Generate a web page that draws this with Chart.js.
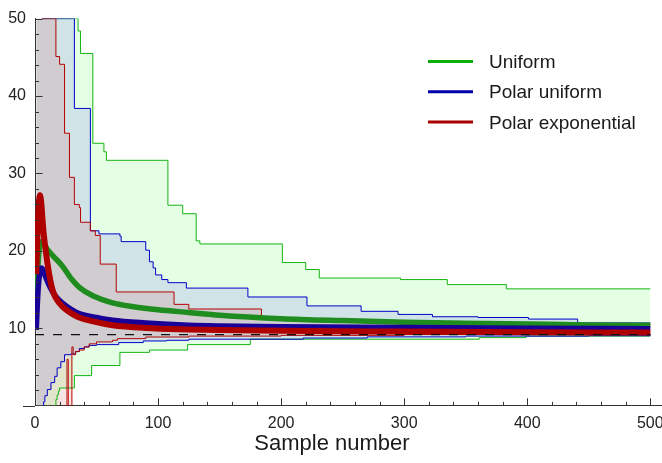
<!DOCTYPE html>
<html>
<head>
<meta charset="utf-8">
<script src="https://cdn.jsdelivr.net/npm/chart.js@4.4.1/dist/chart.umd.min.js"></script>
<style>
  body { margin: 0; background: #fff; }
  canvas { display: block; }
</style>
</head>
<body>
<canvas id="myChart" width="662" height="463"></canvas>
<script>
// tick labels
const xTicks = [0, 100, 200, 300, 400, 500];
const yTicks = [10, 20, 30, 40, 50];

const legendNames = ["Uniform", "Polar uniform", "Polar exponential"];
const trueValue = 9.2;

// running means, [sample, value]
const uniformMean = [[1,12.3],[2,16.8],[3,19.5],[4,20.8],[5,21.2],[7,21],[10,20.2],[15,19.3],[22,18.1],[30,16.3],[36,15.3],[47,14.2],[63,13.3],[80,12.8],[100,12.4],[125,12.05],[150,11.7],[200,11.25],[250,11.0],[300,10.8],[350,10.65],[400,10.55],[450,10.45],[500,10.4]];
const polarUniformMean = [[1,9.8],[2,13.5],[3,16],[4,17.3],[5,17.8],[6,17.7],[8,16.9],[12,15.4],[16,14.3],[22,13.3],[30,12.4],[36,11.9],[50,11.4],[63,11.05],[90,10.7],[125,10.4],[150,10.3],[200,10.2],[300,10.1],[400,10.0],[500,9.95]];
const polarExpMean = [[1,17],[2,22],[3,25.8],[4,27.2],[5,26.3],[6,24.3],[7,22.3],[9,19.7],[11,17.5],[14,15.1],[17,13.9],[23,12.7],[30,11.9],[36,11.4],[50,10.8],[63,10.4],[90,10.05],[125,9.86],[150,9.78],[200,9.68],[300,9.58],[400,9.5],[500,9.45]];

// band edges (step functions, value holds until next point)
const uniformUpper = [[1,60],[6,50],[33,50],[35,48.4],[37,45.5],[47,33.9],[56,32.8],[58,31.7],[108,25.9],[120,24.8],[131,21.3],[134,20.9],[201,18.5],[220,17.6],[231,16.5],[297,16.3],[335,15.65],[383,15.1],[500,15.1]];
const uniformLower = [[1,-5],[16,0],[17,0.8],[18,1.4],[19,1.9],[20,2.3],[32,3.9],[46,5.2],[69,6.9],[93,7.2],[124,7.9],[175,8.6],[361,8.8],[399,9.0],[500,9.0]];
const polarUniformUpper = [[1,60],[6,50],[31,50],[32,38.4],[45,22.6],[52,22.2],[69,21.9],[70,21.2],[90,20.1],[93,18.6],[96,17.8],[98,16.9],[103,16.3],[108,15.9],[123,15.2],[173,14.05],[221,12.9],[265,12.2],[295,11.8],[323,11.5],[360,11.4],[401,11.2],[441,10.7],[500,10.7]];
const polarUniformLower = [[1,-5],[6,-1],[7,0.5],[8,1.3],[10,2.1],[13,3.0],[16,3.8],[18,4.9],[21,5.7],[24,6.6],[29,6.7],[33,7.0],[36,7.4],[40,7.6],[44,7.8],[50,7.9],[68,8.16],[88,8.37],[107,8.46],[125,8.6],[218,8.75],[270,8.9],[350,9.0],[450,9.05],[500,9.1]];
const polarExpUpper = [[1,60],[6,50],[16,50],[17,45.1],[20,44.1],[24,35.2],[28,29.5],[32,26],[36,25.6],[37,23.7],[45,22.6],[49,22],[53,18.3],[66,14.7],[113,13.1],[125,12.5],[184,11.4],[215,11.1],[270,10.8],[296,10.57],[315,10.5],[500,10.45]];
const polarExpLower = [[1,-20],[26,6],[27,-5],[30,7.6],[31,6.6],[33,7.0],[36,7.2],[40,7.6],[44,8.0],[50,8.25],[63,8.46],[67,8.67],[90,8.88],[125,9.0],[200,9.1],[300,9.2],[500,9.3]];

const pts = (arr) => arr.map(([x, y]) => ({ x, y }));

function meanLine(data, color, w) {
  return { data: pts(data), borderColor: color, borderWidth: w, pointRadius: 0,
           cubicInterpolationMode: "monotone", fill: false };
}
// 'before' in Chart.js = hold the old value, then jump at the new point
function edge(data, color, fillColor) {
  return { data: pts(data), borderColor: color, borderWidth: 1, pointRadius: 0,
           stepped: "before", fill: fillColor ? "+1" : false,
           backgroundColor: fillColor || "transparent" };
}

const legendColors = ["rgb(10,175,10)", "rgb(0,0,170)", "rgb(170,0,0)"];

const decor = {
  id: "decor",
  afterDraw(chart) {
    const { ctx, chartArea: a, scales: { x, y } } = chart;
    ctx.save();
    ctx.strokeStyle = "#333";
    ctx.lineWidth = 1;
    ctx.beginPath();
    // x axis runs a bit past the y axis
    ctx.moveTo(23, Math.round(a.bottom) + 0.5);
    ctx.lineTo(a.left, Math.round(a.bottom) + 0.5);
    // inner ticks
    for (let v = 20; v <= 500; v += 20) {
      const px = Math.round(x.getPixelForValue(v)) + 0.5;
      ctx.moveTo(px, a.bottom);
      ctx.lineTo(px, a.bottom - (v % 100 ? 4 : 7.5));
    }
    for (let v = 2; v <= 50; v += 2) {
      const py = Math.round(y.getPixelForValue(v)) + 0.5;
      ctx.moveTo(a.left, py);
      ctx.lineTo(a.left + (v % 10 ? 4 : 7.5), py);
    }
    ctx.stroke();

    // axis title
    ctx.fillStyle = "#1a1a1a";
    ctx.font = '22px "Liberation Sans", Arial, sans-serif';
    ctx.textAlign = "center";
    ctx.textBaseline = "middle";
    ctx.fillText("Sample number", 332, 444);

    // legend
    ctx.font = '19px "Liberation Sans", Arial, sans-serif';
    ctx.textAlign = "left";
    legendNames.forEach((name, i) => {
      const ly = 61.5 + i * 30.3;
      ctx.strokeStyle = legendColors[i];
      ctx.lineWidth = 3;
      ctx.beginPath();
      ctx.moveTo(428, ly);
      ctx.lineTo(473, ly);
      ctx.stroke();
      ctx.fillText(name, 489, ly + 1.2);
    });
    ctx.restore();
  }
};

Chart.defaults.font.family = '"Liberation Sans", Arial, sans-serif';
Chart.defaults.color = "#222";

const ctx = document.getElementById("myChart");

new Chart(ctx, {
  type: "line",
  data: {
    datasets: [
      { data: [{ x: 0, y: trueValue }, { x: 500, y: trueValue }], borderColor: "#111",
        borderWidth: 1.3, borderDash: [9, 9], pointRadius: 0, fill: false },
      meanLine(polarExpMean, "rgb(175,0,0)", 6),
      meanLine(polarUniformMean, "rgb(25,0,150)", 5.5),
      meanLine(uniformMean, "rgb(30,140,30)", 5.5),
      edge(polarExpUpper, "rgb(180,0,0)", "rgba(208,36,24,0.12)"),
      edge(polarExpLower, "rgb(180,0,0)"),
      edge(polarUniformUpper, "rgb(0,0,200)", "rgba(124,120,244,0.2)"),
      edge(polarUniformLower, "rgb(0,0,200)"),
      edge(uniformUpper, "rgb(20,180,20)", "rgba(100,255,100,0.17)"),
      edge(uniformLower, "rgb(20,180,20)")
    ]
  },
  options: {
    responsive: false,
    animation: false,
    layout: { padding: { top: 10, bottom: 22, left: 0, right: 0 } },
    plugins: {
      legend: { display: false },
      tooltip: { enabled: false },
      filler: { drawTime: "beforeDatasetsDraw" }
    },
    scales: {
      x: {
        type: "linear",
        min: 0,
        max: 509.5,
        grid: { display: false, drawTicks: false },
        border: { color: "#333", width: 1 },
        ticks: { padding: 8, font: { size: 16 } },
        afterBuildTicks: (s) => { s.ticks = xTicks.map((v) => ({ value: v })); },
        afterFit: (s) => { s.paddingRight = 0; s.paddingLeft = 0; }
      },
      y: {
        min: 0,
        max: 50,
        afterFit: (s) => { s.width = 35; },
        grid: { display: false, drawTicks: false },
        border: { color: "#333", width: 1 },
        ticks: { padding: 9, font: { size: 16 } },
        afterBuildTicks: (s) => { s.ticks = yTicks.map((v) => ({ value: v })); }
      }
    }
  },
  plugins: [decor]
});
</script>
</body>
</html>
